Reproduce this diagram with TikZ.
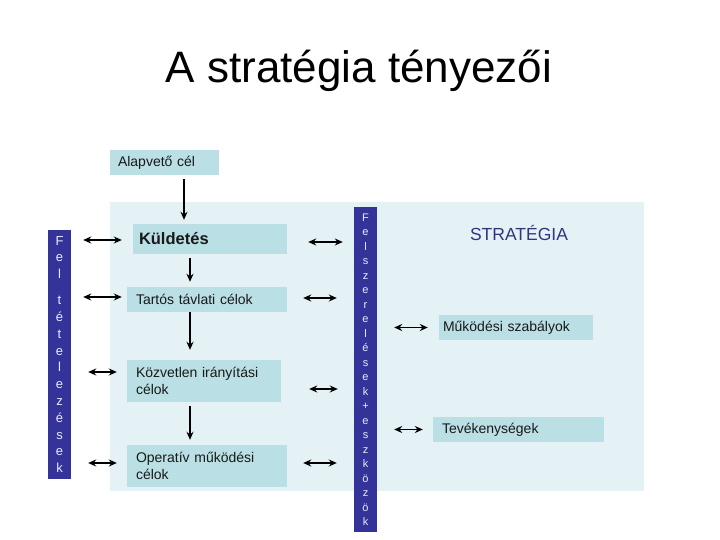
\documentclass[tikz,border=0pt]{standalone}
\usepackage{fontspec}
\setmainfont{Liberation Sans}
\usetikzlibrary{arrows.meta}
\definecolor{barblue}{RGB}{51,51,153}
\definecolor{boxfill}{RGB}{186,223,228}
\definecolor{bgfill}{RGB}{228,242,245}
\definecolor{navy}{RGB}{51,51,128}
\definecolor{bartext}{RGB}{235,235,250}
\tikzset{
  box/.style={fill=boxfill, draw=none, inner ysep=0pt, align=left, text=black!90,
              font=\fontsize{14}{17.5}\selectfont},
  bar/.style={fill=barblue, draw=none, minimum width=23pt, inner sep=0pt, align=center, text=bartext},
  dbl/.style={{Stealth[length=8pt,width=7pt]}-{Stealth[length=8pt,width=7pt]}, line width=1.9pt},
  arr/.style={-{Stealth[length=8pt,width=7pt]}, line width=1.9pt}
}
\begin{document}
\begin{tikzpicture}[x=1pt,y=-1pt]
\useasboundingbox (0,0) rectangle (720,540);
% title
\node[anchor=base, font=\fontsize{44}{50}\selectfont, inner sep=0pt] (title) at (359,83) {A stratégia tényezői};
% background
\fill[bgfill] (110,202) rectangle (644,491);
% top box
\node[box, text width=93pt, inner xsep=8pt, minimum height=25pt] (alap) at (164.5,162.5) {Alapvető cél};
% left column boxes
\node[box, text width=142pt, inner xsep=6pt, minimum height=30pt, font=\fontsize{16.5}{20}\selectfont\bfseries] (kuld) at (210,239) {Küldetés};
\node[box, text width=142pt, inner xsep=9pt, minimum height=25pt] (tart) at (207,299.5) {Tartós távlati célok};
\node[box, text width=136pt, inner xsep=9pt, minimum height=42pt] (kozv) at (204,381) {Közvetlen irányítási\\célok};
\node[box, text width=142pt, inner xsep=9pt, minimum height=42pt] (oper) at (207,466) {Operatív működési\\célok};
% right boxes
\node[box, text width=146pt, inner xsep=4pt, minimum height=25pt] (mukod) at (516,327.5) {Működési szabályok};
\node[box, text width=153pt, inner xsep=9pt, minimum height=25pt] (tevek) at (518.5,429.5) {Tevékenységek};
\node[font=\fontsize{17.5}{20}\selectfont, text=navy, inner sep=0pt] (strat) at (519,233) {STRATÉGIA};
% bars
\node[bar, minimum height=249pt, font=\fontsize{13}{16.8}\selectfont] (lbar) at (59.5,354.5)
  {F\\e\\l\\[9.2pt]t\\é\\t\\e\\l\\e\\z\\é\\s\\e\\k};
\node[bar, minimum height=325pt, font=\fontsize{11}{14.5}\selectfont] (mbar) at (365.5,369.5)
  {F\\e\\l\\s\\z\\e\\r\\e\\l\\é\\s\\e\\k\\+\\e\\s\\z\\k\\ö\\z\\ö\\k};
% down arrows
\draw[arr] ([xshift=19.5pt,yshift=-4pt]alap.south) -- ([xshift=-26pt,yshift=4pt]kuld.north);
\draw[arr] ([xshift=-20pt,yshift=-4pt]kuld.south) -- ([xshift=-17pt,yshift=5pt]tart.north);
\draw[arr] ([xshift=-17pt]tart.south) -- ([xshift=-14pt,yshift=10pt]kozv.north);
\draw[arr] ([xshift=-14pt,yshift=-4pt]kozv.south) -- ([xshift=-17pt,yshift=5pt]oper.north);
% arrow end points
\coordinate (lk) at ([xshift=-11pt,yshift=-1pt]kuld.west);
\coordinate (lt) at ([xshift=-5pt,yshift=2.5pt]tart.west);
\coordinate (lz) at ([xshift=-10pt,yshift=9pt]kozv.west);
\coordinate (lo) at ([xshift=-10pt,yshift=3pt]oper.west);
\coordinate (rk) at ([xshift=21pt,yshift=-3pt]kuld.east);
\coordinate (rt) at ([xshift=16pt,yshift=1.5pt]tart.east);
\coordinate (rz) at ([xshift=28pt,yshift=-8pt]kozv.east);
\coordinate (ro) at ([xshift=16pt,yshift=3pt]oper.east);
% left arrows
\draw[dbl] ([xshift=12pt]lbar.east |- lk) -- (lk);
\draw[dbl] ([xshift=12pt]lbar.east |- lt) -- (lt);
\draw[dbl] ([xshift=17pt]lbar.east |- lz) -- (lz);
\draw[dbl] ([xshift=17pt]lbar.east |- lo) -- (lo);
% middle arrows
\draw[dbl] (rk) -- ([xshift=-11pt]mbar.west |- rk);
\draw[dbl] (rt) -- ([xshift=-17pt]mbar.west |- rt);
\draw[dbl] (rz) -- ([xshift=-16pt]mbar.west |- rz);
\draw[dbl] (ro) -- ([xshift=-17pt]mbar.west |- ro);
% right arrows
\draw[dbl] ([xshift=17pt]mbar.east |- mukod.west) -- ([xshift=-11pt]mukod.west);
\draw[dbl] ([xshift=17pt]mbar.east |- tevek.west) -- ([xshift=-10pt]tevek.west);
\end{tikzpicture}
\end{document}
